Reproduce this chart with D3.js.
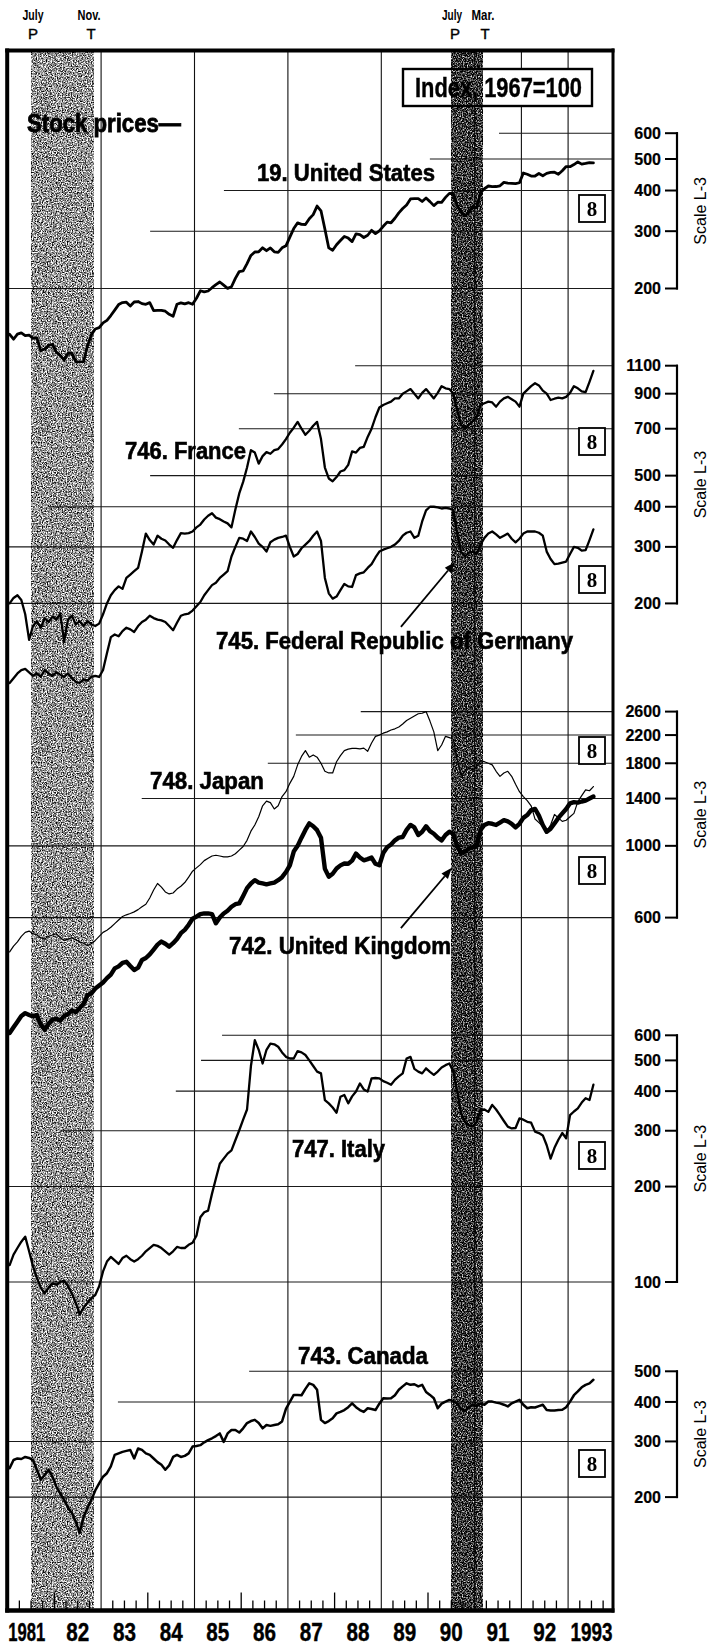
<!DOCTYPE html>
<html>
<head>
<meta charset="utf-8">
<script src="https://cdn.jsdelivr.net/npm/d3@7"></script>
<style>
  html, body { margin: 0; padding: 0; background: #fff; }
  svg { display: block; }
</style>
</head>
<body>
<svg id="chart" width="711" height="1645"></svg>
<script>
// Stock price indexes, 1967=100, monthly, Jan 1981 - Jul 1993
const us = [144.6,139.7,144.9,146.2,143.3,143.9,140.5,141.0,128.7,130.3,133.7,134.7,
  127.6,124.6,120.6,126.5,126.6,119.3,119.0,119.3,133.2,144.3,150.2,151.6,
  156.9,159.7,165.2,171.6,178.5,181.0,181.6,176.7,181.8,182.4,179.7,178.8,
  181.0,171.1,171.3,171.4,170.3,166.6,164.3,178.9,180.7,179.3,180.9,178.9,
  186.7,196.8,195.2,196.5,201.1,205.5,209.4,204.8,200.2,202.5,214.8,225.5,
  226.5,238.6,252.7,258.9,259.4,266.8,261.3,266.5,259.2,258.2,266.6,270.4,
  287.7,305.6,318.1,314.7,314.5,327.8,337.3,358.3,346.6,304.8,266.5,262.1,
  272.5,280.8,289.1,285.7,278.7,294.4,292.7,286.9,291.5,301.8,294.8,300.8,
  310.5,319.8,318.4,328.8,341.5,352.1,361.1,377.0,377.8,377.9,370.1,379.2,
  369.8,359.5,368.2,367.9,381.0,392.0,391.6,359.8,343.1,334.1,343.0,357.6,
  354.1,394.1,405.0,413.0,411.2,411.5,413.6,423.6,421.2,420.8,419.8,422.6,
  452.6,448.8,443.1,443.2,451.2,444.1,451.5,454.6,455.2,448.7,460.0,473.9,
  473.4,480.5,489.7,482.0,484.3,487.4,486.6];

const france = [200,208,212,205,185,154,170,176,168,180,175,182,
  178,186,152,178,183,172,176,170,176,172,170,173,
  185,200,212,220,226,222,240,246,252,258,290,330,
  315,305,325,318,314,305,298,315,331,330,331,335,
  345,352,365,375,382,370,366,360,355,345,392,440,
  478,530,600,590,545,575,592,585,600,605,625,650,
  680,705,735,700,670,690,715,735,650,530,490,480,
  495,515,520,540,595,590,610,615,660,700,760,815,
  830,840,850,870,870,900,915,930,900,870,905,930,
  900,870,905,950,935,930,900,800,720,700,720,740,
  760,830,840,850,845,820,850,870,880,865,850,820,
  900,925,950,970,955,920,900,860,868,875,870,880,
  905,950,935,915,910,980,1060];

const germany = [113,117,121,124,125,122,119,121,118,124,121,119,
  122,120,118,121,117,114,113,116,115,118,119,118,
  124,140,157,160,158,164,168,166,163,170,175,178,
  183,180,178,177,175,170,165,174,183,185,186,190,
  196,202,212,220,228,232,240,246,252,280,300,320,
  318,313,335,322,307,300,290,310,316,320,322,325,
  300,280,285,297,305,313,325,335,313,240,215,207,
  210,220,230,226,225,245,248,250,258,265,278,290,
  294,297,300,305,313,325,332,335,320,325,360,390,
  400,400,398,395,397,395,390,330,290,280,288,290,
  285,305,320,330,335,328,320,325,330,318,310,318,
  330,335,335,335,332,325,290,275,265,266,268,270,
  285,300,298,292,293,315,340];

const japan = [470,490,505,525,540,545,535,530,520,515,525,530,
  535,520,510,515,520,512,505,500,492,498,510,525,
  540,548,560,575,590,605,612,618,625,635,648,660,
  690,730,765,745,720,710,715,735,750,770,800,835,
  855,875,900,915,930,935,930,925,925,930,945,970,
  995,1040,1110,1160,1230,1330,1375,1360,1300,1330,1420,1470,
  1560,1640,1780,1890,1970,1880,1910,1880,1800,1700,1680,1680,
  1820,1900,1970,1990,2000,2000,1995,2005,1960,2080,2180,2200,
  2230,2250,2280,2300,2330,2380,2440,2480,2520,2560,2570,2600,
  2430,2250,1970,2050,2180,2160,2140,1850,1650,1700,1740,1720,
  1760,1830,1820,1800,1780,1700,1640,1680,1700,1640,1550,1470,
  1420,1380,1330,1210,1180,1150,1110,1160,1250,1220,1190,1200,
  1230,1260,1370,1430,1490,1480,1525];

const uk = [264,275,286,298,304,300,297,300,280,270,282,290,
  292,288,298,302,310,306,315,325,345,350,362,370,
  378,390,400,418,424,435,438,425,413,420,444,450,
  462,478,495,506,498,488,500,515,537,550,570,595,
  604,615,618,618,615,576,600,618,630,648,660,664,
  700,740,765,783,770,765,760,765,770,783,800,830,
  870,960,1000,1060,1120,1173,1150,1118,1060,850,803,820,
  851,870,882,880,900,946,920,902,910,920,880,871,
  950,990,1010,1040,1060,1065,1120,1160,1140,1080,1105,1150,
  1110,1090,1060,1040,1080,1105,1090,1000,950,960,980,990,
  1000,1120,1160,1175,1170,1160,1180,1200,1190,1170,1140,1170,
  1220,1245,1290,1300,1240,1160,1105,1130,1173,1220,1260,1300,
  1353,1365,1360,1371,1380,1400,1420];

const italy = [113,122,128,134,139,125,112,103,96,92,96,99,
  98,100,101,97,92,86,79,83,86,89,91,97,
  108,116,120,117,114,119,121,118,116,118,121,125,
  128,131,130,128,125,122,125,129,128,128,131,133,
  140,160,166,168,190,212,236,245,254,260,280,301,
  325,350,480,579,540,489,540,565,562,552,530,513,
  507,507,535,530,520,500,480,461,455,375,366,355,
  342,384,389,366,385,399,423,405,399,439,440,439,
  430,425,419,434,445,455,507,513,470,461,455,472,
  460,450,461,475,483,489,461,400,340,320,312,309,
  320,349,350,344,362,350,336,322,309,305,306,328,
  325,320,318,298,295,290,270,245,265,281,295,284,
  336,345,353,368,380,375,419];

const canada = [247,262,265,264,268,266,262,244,227,235,244,232,
  216,205,196,185,178,167,154,173,185,196,210,221,
  232,238,250,272,275,278,280,282,265,285,282,275,
  272,265,258,253,244,252,268,272,268,270,275,289,
  290,292,298,303,307,312,318,299,318,326,326,320,
  330,343,348,351,343,330,338,336,338,340,347,380,
  400,421,421,420,440,458,453,437,351,343,348,355,
  368,372,377,385,396,385,377,372,382,380,377,395,
  411,410,411,420,437,448,458,453,455,448,453,430,
  421,411,382,395,401,406,403,395,380,375,385,392,
  388,395,392,401,401,398,396,392,387,396,401,406,
  392,382,385,384,388,392,377,376,376,377,378,385,
  401,420,432,445,453,458,470];

// Scale labels for each panel (ratio scale)
const usTicks = [200, 300, 400, 500, 600];
const frdeTicks = [200, 300, 400, 500, 700, 900, 1100];
const jpukTicks = [600, 1000, 1400, 1800, 2200, 2600];
const itTicks = [100, 200, 300, 400, 500, 600];
const caTicks = [200, 300, 400, 500];

const yearLabels = ['1981','82','83','84','85','86','87','88','89','90','91','92','1993'];
const yearGrid = [1983, 1985, 1987, 1989, 1991, 1992, 1993];

// Business cycle peaks (P) and troughs (T)
const recessions = [
  { start: 1981.5, end: 1982 + 10/12, peak: 'July', trough: 'Nov.' },
  { start: 1990.5, end: 1991 + 2/12,  peak: 'July', trough: 'Mar.' }
];

// ---------------------------------------------------------------
const svg = d3.select('#chart');
const SANS = '"Liberation Sans", Arial, Helvetica, sans-serif';
const SERIF = '"Liberation Serif", "Times New Roman", serif';

const frame = { left: 7.2, right: 613, top: 50.5, bottom: 1610.5 };
const x = d3.scaleLinear().domain([1981, 1994]).range([7.7, 614.8]);
const monthT = i => 1981 + (i + 0.5) / 12;

const panels = [
  { ticks: usTicks, dom: [200, 600], rng: [288.5, 133.2],
    gridFrom: [null, 1984.05, 1985.63, 1990.04, 1991.52],
    series: [{ v: us, w: 2.8 }], boxes: [195] },
  { ticks: frdeTicks, dom: [200, 1100], rng: [603.4, 365.7],
    gridFrom: [null, null, 1981.86, 1984.05, 1985.95, 1986.70, 1988.44],
    series: [{ v: germany, w: 2.3 }, { v: france, w: 2.3 }], boxes: [428, 566] },
  { ticks: jpukTicks, dom: [600, 2600], rng: [917.6, 711.6],
    gridFrom: [null, null, 1983.87, 1986.57, 1987.17, 1988.56],
    series: [{ v: japan, w: 1.2 }, { v: uk, w: 4.4 }], boxes: [737, 857] },
  { ticks: itTicks, dom: [100, 600], rng: [1282, 1035.3],
    gridFrom: [null, null, 1982.14, 1984.60, 1985.14, 1985.59],
    series: [{ v: italy, w: 2.3 }], boxes: [1142] },
  { ticks: caTicks, dom: [200, 500], rng: [1497.1, 1371.3],
    gridFrom: [null, null, 1983.36, 1986.17],
    series: [{ v: canada, w: 2.5 }], boxes: [1450] }
];
panels.forEach(p => { p.y = d3.scaleLog().domain(p.dom).range(p.rng); });

const defs = svg.append('defs');
defs.append('clipPath').attr('id', 'plotClip').append('rect')
  .attr('x', frame.left).attr('y', frame.top)
  .attr('width', frame.right - frame.left).attr('height', frame.bottom - frame.top);

// grainy halftone shading
function grain(id, a, b, seed) {
  const f = defs.append('filter').attr('id', id)
    .attr('x', 0).attr('y', 0).attr('width', 1).attr('height', 1)
    .attr('color-interpolation-filters', 'sRGB');
  f.append('feTurbulence').attr('type', 'fractalNoise')
    .attr('baseFrequency', 0.8).attr('numOctaves', 2).attr('seed', seed).attr('result', 'n');
  f.append('feColorMatrix').attr('in', 'n').attr('type', 'matrix')
    .attr('values', `${a} 0 0 0 ${b}  ${a} 0 0 0 ${b}  ${a} 0 0 0 ${b}  0 0 0 0 1`);
}
grain('grain1', 2.4, -0.62, 4);
grain('grain2', 2.4, -0.98, 9);

svg.append('rect').attr('width', 711).attr('height', 1645).attr('fill', '#fff');

const plot = svg.append('g').attr('clip-path', 'url(#plotClip)');

// vertical year rules
plot.selectAll('line.vgrid').data(yearGrid).join('line')
  .attr('x1', d => x(d)).attr('x2', d => x(d))
  .attr('y1', frame.top).attr('y2', frame.bottom)
  .attr('stroke', '#111').attr('stroke-width', 1.1);

// horizontal scale rules
panels.forEach(p => {
  plot.selectAll(null).data(p.ticks).join('line')
    .attr('x1', (d, i) => p.gridFrom[i] == null ? frame.left : x(p.gridFrom[i]))
    .attr('x2', frame.right)
    .attr('y1', d => p.y(d)).attr('y2', d => p.y(d))
    .attr('stroke', '#1a1a1a').attr('stroke-width', 1.1);
});

// index box
plot.append('rect').attr('x', 403).attr('y', 69).attr('width', 189).attr('height', 37)
  .attr('fill', '#fff').attr('stroke', '#000').attr('stroke-width', 2.4);

function text(g, s, px, py, o) {
  const t = g.append('text').attr('x', px).attr('y', py).text(s)
    .attr('font-family', o.family || SANS)
    .attr('font-size', o.size)
    .attr('font-weight', o.weight || 'bold')
    .attr('text-anchor', o.anchor || 'start')
    .attr('fill', '#000');
  if (o.len) t.attr('textLength', o.len).attr('lengthAdjust', 'spacingAndGlyphs');
  if (o.stroke) t.attr('stroke', '#000').attr('stroke-width', o.stroke);
  return t;
}

text(plot, 'Index, 1967=100', 415, 97, { size: 27, len: 167, stroke: 0.4 });
text(plot, 'Stock prices\u2014', 27, 132, { size: 25, len: 154, stroke: 0.8 });

const titles = [
  ['19. United States', 257, 181, 178],
  ['746. France', 125, 459, 121],
  ['745. Federal Republic of Germany', 216, 649, 357],
  ['748. Japan', 150, 789, 114],
  ['742. United Kingdom', 229, 954, 222],
  ['747. Italy', 292, 1157, 93],
  ['743. Canada', 298, 1364, 130]
];
titles.forEach(([s, px, py, len]) => text(plot, s, px, py, { size: 23, len, stroke: 0.6 }));

// "8" markers
panels.forEach(p => p.boxes.forEach(by => {
  plot.append('rect').attr('x', 579).attr('y', by).attr('width', 26).attr('height', 27)
    .attr('fill', '#fff').attr('stroke', '#000').attr('stroke-width', 1.8);
  text(plot, '8', 592, by + 20.5, { size: 21, family: SERIF, anchor: 'middle' });
}));

// series lines
panels.forEach(p => {
  const line = d3.line().x((d, i) => x(monthT(i))).y(d => p.y(d));
  p.series.forEach(s => {
    plot.append('path').datum(s.v).attr('d', line)
      .attr('fill', 'none').attr('stroke', '#000')
      .attr('stroke-width', s.w).attr('stroke-linejoin', 'round').attr('stroke-linecap', 'round');
  });
});

// pointers from labels to lines
const pointers = [
  { p: panels[1], from: [1989.42, 169], to: [1990.58, 269] },
  { p: panels[2], from: [1989.42, 557], to: [1990.51, 855] }
];
pointers.forEach(a => {
  const x1 = x(a.from[0]), y1 = a.p.y(a.from[1]);
  const x2 = x(a.to[0]), y2 = a.p.y(a.to[1]);
  const ang = Math.atan2(y2 - y1, x2 - x1);
  const L = 11, Wd = 4.2;
  const bx = x2 - L * Math.cos(ang), by = y2 - L * Math.sin(ang);
  plot.append('line').attr('x1', x1).attr('y1', y1).attr('x2', bx).attr('y2', by)
    .attr('stroke', '#000').attr('stroke-width', 1.8);
  plot.append('path').attr('d', `M${x2},${y2}L${bx + Wd * Math.sin(ang)},${by - Wd * Math.cos(ang)}L${bx - Wd * Math.sin(ang)},${by + Wd * Math.cos(ang)}Z`)
    .attr('fill', '#000');
});

// recession shading
recessions.forEach((r, i) => {
  plot.append('rect')
    .attr('x', x(r.start)).attr('width', x(r.end) - x(r.start))
    .attr('y', frame.top).attr('height', frame.bottom - frame.top)
    .attr('filter', `url(#grain${i + 1})`)
    .style('mix-blend-mode', 'multiply');
});

// bottom time ticks
const quarters = [];
for (let yr = 1981; yr < 1994; yr++) [0.25, 0.5, 0.75].forEach(q => quarters.push(yr + q));
const yearTicks = d3.range(1982, 1994).filter(yr => !yearGrid.includes(yr));
svg.selectAll('line.qt').data(quarters).join('line')
  .attr('x1', d => x(d)).attr('x2', d => x(d))
  .attr('y1', frame.bottom).attr('y2', frame.bottom - 10)
  .attr('stroke', '#000').attr('stroke-width', 1.3);
svg.selectAll('line.yt').data(yearTicks).join('line')
  .attr('x1', d => x(d)).attr('x2', d => x(d))
  .attr('y1', frame.bottom).attr('y2', frame.bottom - 18)
  .attr('stroke', '#000').attr('stroke-width', 1.3);

// frame
svg.append('line').attr('x1', frame.left).attr('x2', frame.left).attr('y1', frame.top - 2).attr('y2', frame.bottom + 2)
  .attr('stroke', '#000').attr('stroke-width', 4);
svg.append('line').attr('x1', frame.right).attr('x2', frame.right).attr('y1', frame.top - 2).attr('y2', frame.bottom + 2)
  .attr('stroke', '#000').attr('stroke-width', 3);
svg.append('line').attr('x1', frame.left - 2).attr('x2', frame.right + 1.5).attr('y1', frame.top).attr('y2', frame.top)
  .attr('stroke', '#000').attr('stroke-width', 4.2);
svg.append('line').attr('x1', frame.left - 2).attr('x2', frame.right + 1.5).attr('y1', frame.bottom).attr('y2', frame.bottom)
  .attr('stroke', '#000').attr('stroke-width', 4.6);

// year labels
const yl = svg.append('g');
yearLabels.forEach((s, i) => {
  const yr = 1981 + i;
  const first = i === 0;
  const len = s.length === 4 ? (first ? 37 : 42) : 23;
  text(yl, s, first ? frame.left + 1 : x(yr + 0.5), 1641, { size: 25, len, anchor: first ? 'start' : 'middle', stroke: 0.4 });
});

// peak / trough markers above the frame
const pt = svg.append('g');
const ptPos = [
  { p: 33, t: 91, pl: 33, tl: 89, plen: 21, tlen: 23 },
  { p: 455, t: 485, pl: 452, tl: 483, plen: 20, tlen: 23 }
];
recessions.forEach((r, i) => {
  const q = ptPos[i];
  text(pt, r.peak, q.pl, 20, { size: 15, anchor: 'middle', len: q.plen });
  text(pt, r.trough, q.tl, 20, { size: 15, anchor: 'middle', len: q.tlen });
  text(pt, 'P', q.p, 39, { size: 15, anchor: 'middle', weight: 'normal', stroke: 0.4 });
  text(pt, 'T', q.t, 39, { size: 15, anchor: 'middle', weight: 'normal', stroke: 0.4 });
});

// ratio scale brackets at the right
panels.forEach(p => {
  const g = svg.append('g');
  const top = p.y(d3.max(p.ticks)), bot = p.y(d3.min(p.ticks));
  g.append('line').attr('x1', 677).attr('x2', 677).attr('y1', top - 1).attr('y2', bot + 1)
    .attr('stroke', '#000').attr('stroke-width', 2.2);
  p.ticks.forEach(t => {
    g.append('line').attr('x1', 665).attr('x2', 678).attr('y1', p.y(t)).attr('y2', p.y(t))
      .attr('stroke', '#000').attr('stroke-width', 2);
    text(g, String(t), 661, p.y(t) + 5.6, { size: 16, anchor: 'end', stroke: 0.2 });
  });
  const mid = (top + bot) / 2;
  g.append('text').attr('transform', `translate(706,${mid}) rotate(-90)`)
    .attr('text-anchor', 'middle').attr('font-family', SANS).attr('font-size', 16)
    .attr('fill', '#000').text('Scale L-3');
});
</script>
</body>
</html>
